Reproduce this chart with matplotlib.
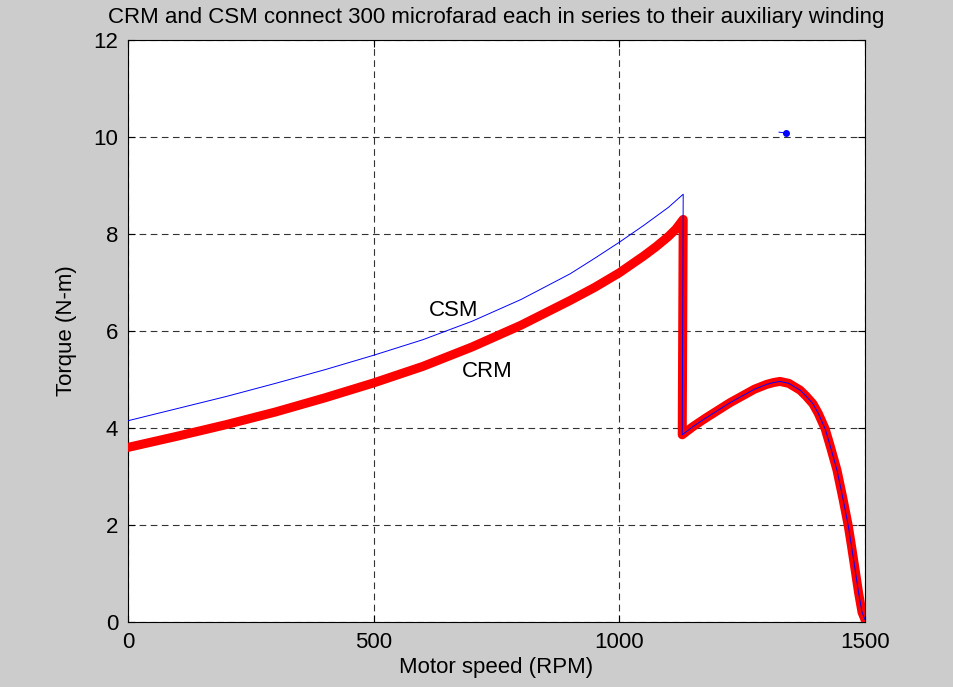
import matplotlib.pyplot as plt

# CSM curve (blue, thin) before the jump
csm_speed = [0, 100, 200, 300, 400, 500, 600, 700, 800, 900, 950, 1000, 1050, 1100, 1130]
csm_torque = [4.15, 4.4, 4.65, 4.92, 5.2, 5.5, 5.82, 6.2, 6.65, 7.18, 7.5, 7.83, 8.18, 8.55, 8.82]

# CRM curve (red, thick) before the jump
crm_speed = [0, 100, 200, 300, 400, 500, 600, 700, 800, 900, 950, 1000, 1050, 1075, 1100, 1115, 1130]
crm_torque = [3.6, 3.83, 4.07, 4.33, 4.62, 4.93, 5.27, 5.67, 6.12, 6.63, 6.9, 7.2, 7.55, 7.74, 7.95, 8.1, 8.3]

# both curves after the jump (run capacitor only)
run_speed = [1128, 1150, 1175, 1200, 1225, 1250, 1275, 1300, 1315, 1327, 1345, 1368, 1380,
             1394, 1405, 1419, 1430, 1443, 1455, 1466, 1472, 1480, 1487, 1494, 1500]
run_torque = [3.86, 4.03, 4.2, 4.36, 4.52, 4.66, 4.8, 4.9, 4.94, 4.96, 4.92, 4.78, 4.66,
              4.5, 4.3, 3.98, 3.6, 3.13, 2.55, 1.98, 1.6, 1.07, 0.6, 0.2, 0.05]

# stray point near the top right
dot_speed = [1325, 1340]
dot_torque = [10.1, 10.08]

plt.rcParams['font.family'] = ['Liberation Sans', 'DejaVu Sans']

fig = plt.figure(figsize=(9.54, 6.87), dpi=100, facecolor='#cccccc')
ax = fig.add_axes([0.1342, 0.0946, 0.7725, 0.8472])

ax.plot(crm_speed + run_speed, crm_torque + run_torque, color='red', lw=6.5,
        solid_joinstyle='round', solid_capstyle='round', zorder=3)
ax.plot(csm_speed + run_speed, csm_torque + run_torque, color='blue', lw=0.7, zorder=4)
ax.plot(dot_speed, dot_torque, color='blue', lw=0.7, zorder=4)
ax.plot(dot_speed[-1:], dot_torque[-1:], 'o', color='blue', ms=4, zorder=4)

ax.text(612, 6.3, 'CSM', fontsize=16)
ax.text(680, 5.05, 'CRM', fontsize=16)

ax.set_xlim(0, 1500)
ax.set_ylim(0, 12)
ax.set_xticks([0, 500, 1000, 1500])
ax.set_yticks([0, 2, 4, 6, 8, 10, 12])
ax.grid(True, color='#333333', ls=(0, (6, 4)), lw=0.8)
ax.tick_params(direction='in', top=True, right=True, labelsize=16, length=5, pad=7)
for s in ax.spines.values():
    s.set_linewidth(0.8)

ax.set_title('CRM and CSM connect 300 microfarad each in series to their auxiliary winding',
             fontsize=16, pad=12)
ax.set_xlabel('Motor speed (RPM)', fontsize=16, labelpad=3)
ax.set_ylabel('Torque (N-m)', fontsize=16, labelpad=12)

fig.savefig('out.png', facecolor=fig.get_facecolor())
